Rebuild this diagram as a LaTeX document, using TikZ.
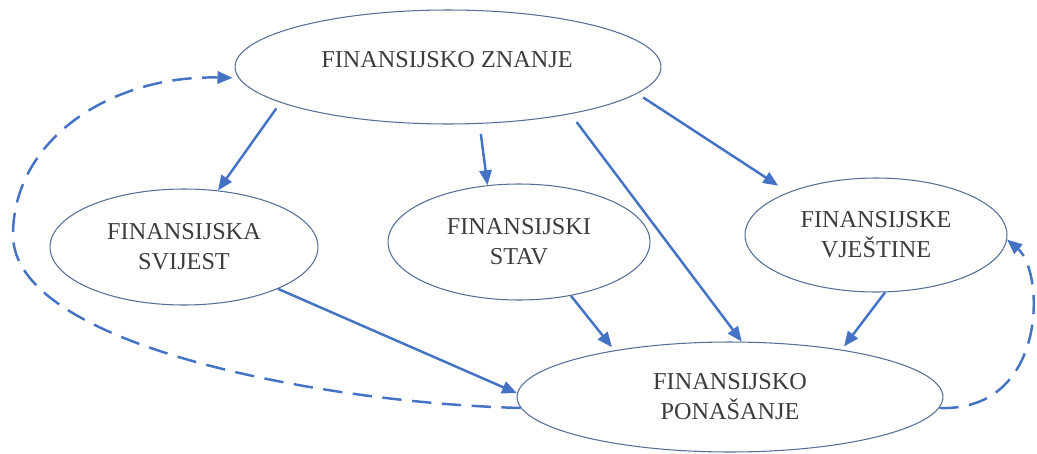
\documentclass[tikz,border=0pt]{standalone}
\usepackage{fontspec}
\setmainfont{Liberation Serif}
\usetikzlibrary{arrows.meta,shapes.geometric}
\definecolor{linkblue}{RGB}{68,114,196}
\definecolor{ovalline}{RGB}{84,110,150}
\definecolor{txtgray}{RGB}{60,60,60}

\begin{document}
\begin{tikzpicture}[x=0.02cm,y=0.02cm,
    oval/.style={draw=ovalline, line width=0.6pt, ellipse, inner sep=0pt,
      align=center, text=txtgray, font=\fontsize{13.8}{17}\selectfont},
    lbl/.style={text=txtgray, font=\fontsize{13.8}{17}\selectfont},
    link/.style={draw=linkblue, line width=1.4pt, -{Triangle[length=8.5pt,width=7pt]}},
    dashlink/.style={link, dash pattern=on 11pt off 6pt}]
    \useasboundingbox (0,0) rectangle (1037,-453);

    % Nodes
    \node[oval, minimum width=8.52cm, minimum height=2.28cm] (znanje) at (448,-67) {};
    \node[lbl] (znanjetxt) at (447,-60) {FINANSIJSKO ZNANJE};
    \node[oval, minimum width=5.36cm, minimum height=2.32cm] (svijest) at (184,-247) {FINANSIJSKA\\SVIJEST};
    \node[oval, minimum width=5.24cm, minimum height=2.32cm] (stav) at (519,-242) {FINANSIJSKI\\STAV};
    \node[oval, minimum width=5.24cm, minimum height=2.28cm] (vjestine) at (876,-235) {FINANSIJSKE\\VJEŠTINE};
    \node[oval, minimum width=8.52cm, minimum height=2.2cm] (ponasanje) at (730,-397) {FINANSIJSKO\\PONAŠANJE};
    \coordinate (lijevo) at (13,-235);

    % Edges
    \draw[link, shorten <=4pt] (znanje.192) -- (svijest.59);
    \draw[link, shorten <=5.7pt] (znanje.299) -- (stav.119);
    \draw[link, shorten <=5.7pt] (znanje.339) -- (ponasanje.78);
    \draw[link, shorten <=4pt, shorten >=6.8pt] (znanje.352) -- (vjestine.154);
    \draw[link] (svijest.336) -- (ponasanje.179);
    \draw[link, shorten >=2.3pt] (stav.314) -- (ponasanje.158);
    \draw[link, shorten >=2.3pt] (vjestine.279) -- (ponasanje.23);

    % Feedback
    \draw[dashlink, shorten >=3.4pt] (ponasanje.183) .. controls (321,-403) and (13,-345) .. (lijevo)
        .. controls (13,-140) and (110,-75) .. (znanje.183);
    \draw[dashlink] (ponasanje.357) .. controls (1048,-412) and (1045,-272) .. (vjestine.358);
\end{tikzpicture}
\end{document}
